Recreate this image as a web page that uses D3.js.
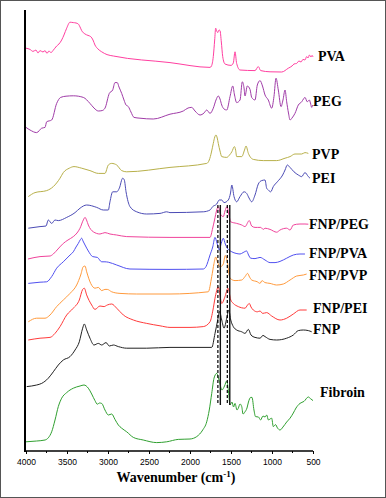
<!DOCTYPE html>
<html><head><meta charset="utf-8">
<script src="https://cdn.jsdelivr.net/npm/d3@7/dist/d3.min.js"></script>
<style>html,body{margin:0;padding:0;background:#fff}svg{display:block}</style>
</head><body><svg id="c" width="386" height="498"></svg>
<script>
// ---- DATA: FTIR spectra [wavenumber (cm-1), intensity (a.u., stacked)] ----
const PVA = [[4000,100.7],[3951,100.4],[3915,99.9],[3878,100.25],[3854,99.5],[3829,100.1],[3793,99.75],[3768,100.1],[3744,99.4],[3720,100],[3695,99.6],[3671,100.1],[3626,101.25],[3598,101.75],[3565,102.75],[3537,104],[3504,105.7],[3463,107.2],[3423,107.1],[3390,107],[3362,106.75],[3341,106],[3321,105.1],[3280,104.25],[3244,103.9],[3211,103.6],[3183,102.75],[3159,101.5],[3122,100.5],[3077,99.8],[3012,99.1],[2935,98.75],[2244,97.1],[1756,95.9],[1738,96.25],[1716,98.6],[1699,102.75],[1687,105.7],[1674,105],[1662,104.6],[1646,105.25],[1634,105.1],[1618,102.25],[1601,98.6],[1573,96.75],[1500,96.4],[1472,97],[1451,99.8],[1431,96.9],[1390,95.25],[1207,95.1],[1167,96.1],[1138,95.1],[1024,94.8],[882,94.75],[801,95.7],[756,96.25],[732,96.75],[699,96.9],[671,97.5],[646,97.25],[622,97.9],[598,97.75],[577,98.6],[561,98.25],[543,99],[524,98.5],[512,98.9],[500,98.5]];
const PEG = [[4000,80.9],[3951,80.25],[3870,79.6],[3809,80.7],[3768,80.9],[3748,82.3],[3687,82.75],[3626,86.9],[3577,88.4],[3512,88.7],[3423,88.8],[3301,88.4],[3220,86.9],[3171,85.75],[3118,85],[3073,85.1],[3037,85.7],[2984,89.4],[2943,90.25],[2915,92.1],[2887,92.1],[2866,91],[2833,89.4],[2805,87.75],[2780,86.5],[2752,86.1],[2720,84.75],[2683,83.4],[2610,83.2],[2448,83],[2244,84.2],[2082,85],[2024,85.75],[1979,85.9],[1939,85],[1878,84],[1829,84.5],[1796,85.25],[1756,84.4],[1716,85.7],[1683,87.75],[1655,88.75],[1634,88],[1613,86.5],[1585,85.5],[1552,85.25],[1512,88.6],[1479,91.25],[1457,89],[1431,87.1],[1390,87.75],[1362,92.3],[1341,90.75],[1329,88.75],[1301,91.25],[1268,90.4],[1248,88.4],[1207,87.75],[1179,91.5],[1146,92.6],[1116,91.25],[1085,89],[1045,87.75],[1004,85.7],[976,88.6],[951,93.2],[923,90.25],[890,86.1],[866,87.75],[841,90.25],[821,87.3],[799,84.5],[780,82.75],[756,83.25],[720,84.4],[679,86.5],[638,87.3],[616,88],[598,88.4],[570,87.3],[545,87.75],[531,87],[516,85.9],[505,86.5]];
const PVP = [[3972,63.6],[3890,64.6],[3748,65.1],[3667,66.1],[3585,68.2],[3545,69.6],[3472,70.7],[3415,71.1],[3321,70.7],[3220,70.1],[3118,69.4],[3037,69.4],[2996,71.5],[2955,71.9],[2894,71.5],[2833,70.1],[2772,69.8],[2244,70.9],[1796,71.9],[1765,72.75],[1738,74.75],[1716,76.9],[1698,78.5],[1683,79],[1668,78.25],[1655,76.9],[1634,75],[1613,73.6],[1552,73.4],[1518,74],[1490,74.8],[1458,76.1],[1444,75.25],[1431,73.6],[1369,73.6],[1335,75.25],[1317,76.25],[1288,74.4],[1228,72.9],[1106,72.6],[943,72.6],[841,73.2],[780,73.6],[720,74.25],[638,74.25],[598,74.6],[557,74.4]];
const PEI = [[3972,55.7],[3829,56.1],[3756,56.25],[3728,57.75],[3687,56.9],[3646,57.75],[3606,57.6],[3504,58.4],[3402,59.6],[3341,60.7],[3260,61.5],[3138,60.9],[3057,60.25],[2996,60.25],[2976,62.3],[2943,64.8],[2894,64.8],[2862,65.7],[2821,68.2],[2801,67.75],[2780,64.8],[2732,61.1],[2650,59.8],[2528,59.25],[2366,59.4],[2284,59.8],[2244,59.6],[1838,59.8],[1756,60.25],[1723,61.1],[1674,61.75],[1643,62.75],[1613,62.75],[1585,62.1],[1533,62.75],[1506,64.5],[1490,66.5],[1463,63.6],[1431,62.3],[1390,63.6],[1341,64.8],[1309,64.4],[1280,63.25],[1248,62.3],[1207,64],[1167,66.75],[1126,67.6],[1085,67.75],[1065,65.7],[1045,65.25],[1016,64.8],[984,66.1],[935,67.3],[870,69],[841,70.25],[813,71.5],[780,70.9],[732,69.8],[679,69],[638,68.6],[598,69.6],[557,68.6],[537,68.2]];
const FNP_PEG = [[3976,48],[3829,48.6],[3707,48.75],[3667,49.25],[3610,50.5],[3545,51.9],[3488,52.75],[3423,53.6],[3378,54.5],[3341,55.7],[3301,57.75],[3280,58.4],[3262,57.75],[3240,56.5],[3179,54.8],[3098,54.25],[3037,54.6],[2976,54.25],[2894,54],[2772,53.6],[2244,53.4],[1756,53.4],[1723,55.75],[1701,57.75],[1674,60.25],[1655,61.1],[1630,59.25],[1594,58.6],[1573,60],[1549,61.1],[1530,59.5],[1503,57.3],[1431,56.9],[1369,56.5],[1329,56.1],[1277,57.6],[1248,56.25],[1207,55.9],[1179,55.9],[1138,55.9],[1106,55.4],[1085,55.7],[1024,55.4],[943,54.7],[902,55.25],[821,55.7],[780,55.25],[740,56.5],[659,56.75],[598,56.75],[557,56.7]];
const FNP_PVA = [[3972,41.9],[3829,42.2],[3748,42.3],[3687,43.6],[3626,45.7],[3545,47.3],[3463,49],[3423,49.8],[3390,51],[3362,51.9],[3335,52.9],[3321,53.2],[3305,52.5],[3280,51.5],[3240,50],[3187,48.6],[3130,48.4],[3077,47.3],[3037,47.3],[2996,47.2],[2894,46.5],[2732,45.5],[2244,45.4],[1838,45.5],[1805,46.1],[1756,49],[1723,51],[1695,53.4],[1671,52],[1643,50.25],[1618,52],[1594,53.2],[1570,51.75],[1545,50.7],[1490,49.8],[1438,49.4],[1390,49.25],[1353,49.6],[1309,50],[1286,49],[1260,48.2],[1207,48.1],[1146,48.4],[1085,47.75],[1024,47.1],[963,47.1],[902,47.4],[821,48.2],[740,49],[659,49.25],[598,49.25]];
const FNP_PVP = [[3972,32.3],[3870,33.2],[3768,33.2],[3707,34],[3626,36.1],[3545,37.75],[3463,39.4],[3382,41.5],[3333,44],[3301,46.1],[3280,46.25],[3260,44.8],[3211,41.9],[3159,40.7],[3118,40.9],[3077,40.1],[3037,40.4],[3009,40.4],[2955,39.8],[2854,39.4],[2650,39.25],[2244,39.25],[1777,39.8],[1735,43.6],[1707,46.9],[1687,48.5],[1665,47.25],[1634,46],[1594,46.75],[1570,48.9],[1549,47.75],[1512,43.2],[1451,42.6],[1369,42.75],[1329,43.6],[1298,44.4],[1274,43.5],[1248,42.75],[1179,42.3],[1146,41.9],[1122,42.6],[1085,42.1],[1024,41.9],[943,41.5],[862,41.75],[780,42.75],[699,43.75],[618,44],[577,44.25]];
const FNP_PEI = [[3972,27.75],[3829,28.2],[3707,28.4],[3646,29.4],[3585,31.1],[3504,34],[3423,35.7],[3350,37.75],[3309,40.4],[3289,40.7],[3260,39],[3199,36.5],[3159,35.4],[3098,36.25],[3049,36.1],[3009,36.5],[2955,36.75],[2894,35.7],[2813,34],[2691,32.75],[2528,31.9],[2366,31.3],[2244,30.9],[2000,30.9],[1838,31.1],[1756,32.3],[1720,35.25],[1695,38.2],[1655,41],[1613,36.9],[1573,38.6],[1537,40.7],[1503,37.75],[1472,36.9],[1411,36.1],[1329,35.7],[1298,36.5],[1277,36.9],[1256,36],[1228,35.25],[1179,34.8],[1146,35],[1114,34.4],[1065,34.6],[1004,33.75],[902,32.75],[821,33.2],[740,34.25],[659,35.25],[622,35.25],[577,35.25]];
const FNP = [[3991,16.1],[3870,16.5],[3809,16.9],[3728,18.2],[3667,19.8],[3606,21.5],[3545,22.75],[3463,23.6],[3402,25.25],[3350,27.3],[3309,30.7],[3289,31.75],[3260,30.25],[3220,28.2],[3171,26.5],[3118,26.9],[3077,26.5],[3024,27.1],[2984,26.25],[2935,26.5],[2874,26.1],[2772,25.7],[2528,25.7],[2244,25.9],[1735,25.9],[1695,29.4],[1662,32.75],[1640,34.9],[1613,32.75],[1585,30.7],[1552,33.2],[1527,35.25],[1503,32.75],[1472,31.1],[1431,30.25],[1369,29.8],[1329,29.4],[1288,30.4],[1256,29],[1207,28.4],[1146,28.2],[1110,28.9],[1085,28.6],[1024,27.9],[943,27.75],[821,28.2],[740,29],[679,30.1],[618,30.25],[557,30.1],[516,29.8]];
const Fibroin = [[4000,2.3],[3870,2.5],[3768,2.75],[3728,3.3],[3687,4.8],[3646,7.75],[3606,11.1],[3565,13.2],[3504,14.6],[3423,15.7],[3341,16.25],[3293,16.5],[3240,15.7],[3199,14.25],[3159,12.6],[3130,11.7],[3104,12],[3077,11.9],[3037,10.25],[2996,9],[2955,9.25],[2915,7.9],[2874,6.5],[2833,5.7],[2772,4.8],[2691,3.4],[2570,2.75],[2406,2.1],[2284,2.3],[2143,2.9],[2000,3],[1918,3.6],[1845,5.25],[1796,7.3],[1765,10.25],[1735,14.4],[1707,18.2],[1674,19.4],[1646,17.75],[1610,15.25],[1579,16.25],[1552,17.5],[1530,14.75],[1512,11.5],[1488,12.25],[1469,11],[1451,11.9],[1427,10.25],[1411,10.7],[1390,11.75],[1369,11.1],[1353,9.25],[1329,9.8],[1305,10.75],[1287,12.25],[1260,13.4],[1244,13.4],[1220,10.25],[1201,8.6],[1165,8.5],[1140,7.75],[1110,8.75],[1085,8.5],[1065,9],[1043,7.75],[1024,8],[1004,8.2],[984,6.1],[957,6.6],[933,5.75],[902,5.25],[866,6],[821,7.25],[780,8.2],[740,9.5],[707,10.75],[659,11.9],[610,12.4],[557,13.5],[531,13.1],[500,12.6]];

const seriesNames = ["PVA","PEG","PVP","PEI","FNP/PEG","FNP/PVA","FNP/PVP","FNP/PEI","FNP","Fibroin"];
const seriesValues = [PVA,PEG,PVP,PEI,FNP_PEG,FNP_PVA,FNP_PVP,FNP_PEI,FNP,Fibroin];
const xTicks = [4000,3500,3000,2500,2000,1500,1000,500];
const minorTicks = [3750,3250,2750,2250,1750,1250,750];
const dashedMarks = [1660,1545];   // wavenumbers of dashed reference lines
const solidMarks = [1630,1515];    // wavenumbers of solid reference lines
const markRange = [11.5,61.5];     // intensity span of reference lines

// ---- STYLE / LAYOUT ----
const colors = ["#ff3fa0","#a03ca8","#b8b04a","#4b4bb5","#f0439b","#5050f0","#ff9a3c","#ff3b3b","#222222","#30a030"];
const labelLayout = [[318,61],[313,106],[312,159],[312,182.7],[309,229],[309,258.3],[309,280],[313,312.7],[313,334.3],[320,397.3]];

const svg = d3.select("#c");
const x = d3.scaleLinear().domain([4000,500]).range([26,313]);
const y = d3.scaleLinear().domain([0,110.25]).range([451,10]);

svg.append("rect").attr("x",0.5).attr("y",0.5).attr("width",385).attr("height",497)
  .attr("fill","none").attr("stroke","#555").attr("stroke-width",1);

const line = d3.line().x(d=>x(d[0])).y(d=>y(d[1])).curve(d3.curveMonotoneX);

seriesValues.forEach((s,i)=>{
  svg.append("path").datum(s).attr("d",line).attr("fill","none")
    .attr("stroke",colors[i]).attr("stroke-width",1).attr("stroke-linejoin","round");
});

// reference lines
dashedMarks.forEach(w=>{
  svg.append("line").attr("x1",x(w)).attr("x2",x(w)).attr("y1",y(markRange[1])).attr("y2",y(markRange[0]))
    .attr("stroke","#000").attr("stroke-width",1.2).attr("stroke-dasharray","3,2");
});
solidMarks.forEach(w=>{
  svg.append("line").attr("x1",x(w)).attr("x2",x(w)).attr("y1",y(markRange[1])).attr("y2",y(markRange[0]))
    .attr("stroke","#111").attr("stroke-width",1.4);
});

// axes
const gx = svg.append("g").attr("transform","translate(0,451)");
gx.call(d3.axisBottom(x).tickValues(xTicks).tickSize(3).tickPadding(5).tickFormat(d3.format("d")));
gx.select(".domain").remove();
gx.selectAll(".tick line").attr("stroke","#000");
gx.selectAll(".tick text").attr("font-family","Liberation Sans, Arial, sans-serif").attr("font-size","8.5px").attr("fill","#000");
gx.selectAll(".minor").data(minorTicks).enter().append("line").attr("class","minor")
  .attr("x1",d=>x(d)).attr("x2",d=>x(d)).attr("y1",0).attr("y2",2).attr("stroke","#000");
svg.append("line").attr("x1",24).attr("x2",x(500)).attr("y1",451).attr("y2",451).attr("stroke","#000").attr("stroke-width",1.5);
svg.append("line").attr("x1",25).attr("x2",25).attr("y1",10).attr("y2",452).attr("stroke","#000").attr("stroke-width",2);

// labels
seriesNames.forEach((n,i)=>{
  svg.append("text").attr("x",labelLayout[i][0]).attr("y",labelLayout[i][1]).text(n)
    .attr("font-family","Liberation Serif, Times New Roman, serif").attr("font-weight","bold")
    .attr("font-size","14px").attr("fill","#000");
});

const t = svg.append("text").attr("x",176).attr("y",481.5).attr("text-anchor","middle")
  .attr("font-family","Liberation Serif, Times New Roman, serif").attr("font-weight","bold")
  .attr("font-size","14px").attr("fill","#000");
t.append("tspan").text("Wavenumber (cm");
t.append("tspan").text("-1").attr("font-size","9px").attr("dy","-5");
t.append("tspan").text(")").attr("dy","5");
</script></body></html>
